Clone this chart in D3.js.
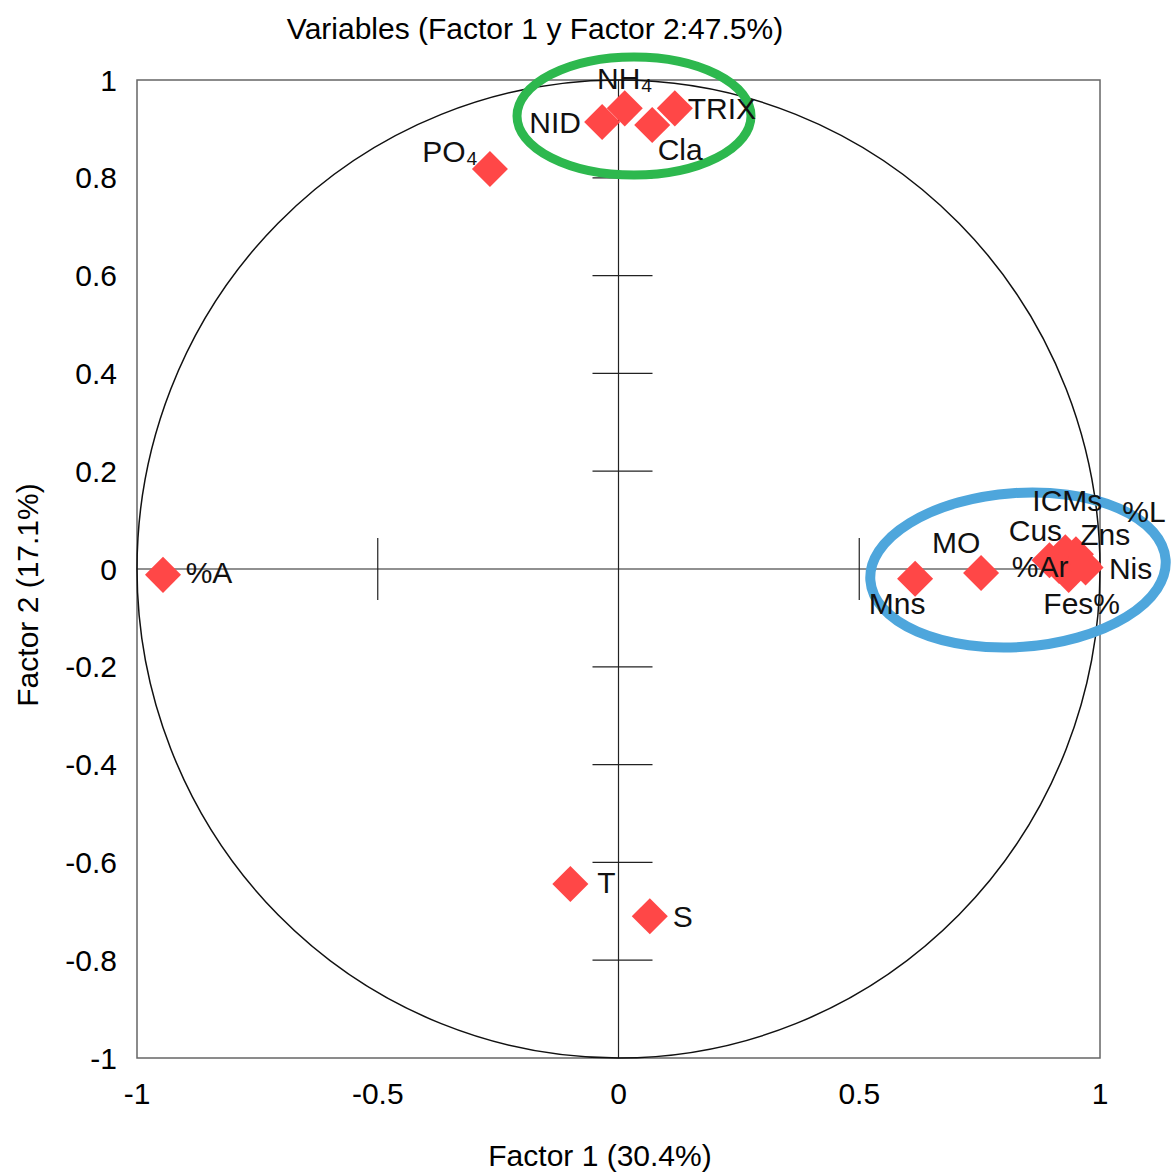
<!DOCTYPE html>
<html>
<head>
<meta charset="utf-8">
<script src="https://cdn.jsdelivr.net/npm/d3@7"></script>
<style>
  body { margin: 0; background: #fff; }
  text { font-family: "Liberation Sans", Arial, sans-serif; }
</style>
</head>
<body>
<div id="container"></div>
<script>
let w = 1172;
let h = 1172;

// DATA
let names = ["%A", "PO4", "NID", "NH4", "Cla", "TRIX", "Mns", "MO", "Cus", "%Ar", "ICMs", "%L", "Fes", "Zns", "Nis", "T", "S"];
let f1 = [-0.946, -0.267, -0.034, 0.013, 0.07, 0.117, 0.616, 0.753, 0.895, 0.915, 0.928, 0.95, 0.935, 0.965, 0.97, -0.1, 0.065];
let f2 = [-0.012, 0.818, 0.914, 0.942, 0.908, 0.942, -0.02, -0.008, 0.018, 0.006, 0.034, 0.03, -0.012, 0.01, 0.003, -0.644, -0.71];
let labels = ["%A", "PO₄", "NID", "NH₄", "Cla", "TRIX", "Mns", "MO", "Cus", "%Ar", "ICMs", "%L", "Fes%", "Zns", "Nis", "T", "S"];
// label offset from the marker, in px
let labelDx = [46, -40, -47, 0, 28, 47, -18, -25, -14, -19, 2, 68, 13, 22, 45, 36, 33];
let labelDy = [-2, -17, 0, -30, 25, 0, 25, -30, -30, 0, -52, -43, 29, -30, 1, -1, 0];
let xTicks = [-1, -0.5, 0, 0.5, 1];
let yTicks = [-1, -0.8, -0.6, -0.4, -0.2, 0, 0.2, 0.4, 0.6, 0.8, 1];
let innerTicksX = [-0.5, 0.5];
let innerTicksY = [-0.8, -0.6, -0.4, -0.2, 0.2, 0.4, 0.6, 0.8];

let mLeft = 137, mRight = 1100, mTop = 80, mBottom = 1058;
let fs = 30;

let viz = d3.select("#container").append("svg")
  .attr("width", w)
  .attr("height", h)
  .style("background-color", "white");

let x = d3.scaleLinear().domain([-1, 1]).range([mLeft, mRight]);
let y = d3.scaleLinear().domain([-1, 1]).range([mBottom, mTop]);

// frame
viz.append("rect")
  .attr("x", mLeft).attr("y", mTop)
  .attr("width", mRight - mLeft).attr("height", mBottom - mTop)
  .attr("fill", "none").attr("stroke", "#666").attr("stroke-width", 1.5);

// axes through origin
viz.append("line")
  .attr("x1", mLeft).attr("x2", mRight).attr("y1", y(0)).attr("y2", y(0))
  .attr("stroke", "#222").attr("stroke-width", 1.2);
viz.append("line")
  .attr("x1", x(0)).attr("x2", x(0)).attr("y1", mTop).attr("y2", mBottom)
  .attr("stroke", "#222").attr("stroke-width", 1.2);

viz.selectAll(".tx").data(innerTicksX).enter()
  .append("line")
  .attr("x1", d => x(d)).attr("x2", d => x(d))
  .attr("y1", y(0) - 31).attr("y2", y(0) + 31)
  .attr("stroke", "#222").attr("stroke-width", 1.2);

viz.selectAll(".ty").data(innerTicksY).enter()
  .append("line")
  .attr("x1", x(0) - 26).attr("x2", x(0) + 34)
  .attr("y1", d => y(d)).attr("y2", d => y(d))
  .attr("stroke", "#222").attr("stroke-width", 1.2);

// correlation circle
viz.append("ellipse")
  .attr("cx", x(0)).attr("cy", y(0))
  .attr("rx", x(1) - x(0)).attr("ry", y(0) - y(1))
  .attr("fill", "none").attr("stroke", "#111").attr("stroke-width", 1.5);

// tick labels
viz.selectAll(".yl").data(yTicks).enter()
  .append("text")
  .attr("x", 117).attr("y", d => y(d))
  .attr("dy", "0.35em")
  .attr("text-anchor", "end")
  .attr("font-size", fs)
  .text(d => String(d));

viz.selectAll(".xl").data(xTicks).enter()
  .append("text")
  .attr("x", d => x(d)).attr("y", 1093)
  .attr("dy", "0.35em")
  .attr("text-anchor", "middle")
  .attr("font-size", fs)
  .text(d => String(d));

// highlight ellipses
viz.append("ellipse")
  .attr("cx", 634).attr("cy", 116).attr("rx", 117).attr("ry", 59)
  .attr("fill", "none").attr("stroke", "#2db84e").attr("stroke-width", 9);
viz.append("ellipse")
  .attr("cx", 0).attr("cy", 0).attr("rx", 148).attr("ry", 77)
  .attr("transform", "translate(1018,570) rotate(-4)")
  .attr("fill", "none").attr("stroke", "#4ea6dc").attr("stroke-width", 10);

// points
let pts = names.map(function (d, i) {
  return { name: d, label: labels[i], f1: f1[i], f2: f2[i], dx: labelDx[i], dy: labelDy[i] };
});

let sym = d3.symbol().type(d3.symbolSquare).size(650);
viz.selectAll(".pt").data(pts).enter()
  .append("path")
  .attr("d", sym)
  .attr("transform", d => "translate(" + x(d.f1) + "," + y(d.f2) + ") rotate(45)")
  .attr("fill", "#ff4747");

viz.selectAll(".lab").data(pts).enter()
  .append("text")
  .attr("x", d => x(d.f1) + d.dx)
  .attr("y", d => y(d.f2) + d.dy)
  .attr("dy", "0.35em")
  .attr("text-anchor", "middle")
  .attr("font-size", fs)
  .attr("fill", "#111")
  .text(d => d.label);

// titles
viz.append("text")
  .attr("x", 535).attr("y", 28).attr("dy", "0.35em")
  .attr("text-anchor", "middle").attr("font-size", fs)
  .text("Variables (Factor 1 y Factor 2:47.5%)");

viz.append("text")
  .attr("x", 600).attr("y", 1155).attr("dy", "0.35em")
  .attr("text-anchor", "middle").attr("font-size", fs)
  .text("Factor 1 (30.4%)");

viz.append("text")
  .attr("transform", "translate(27,595) rotate(-90)")
  .attr("dy", "0.35em")
  .attr("text-anchor", "middle").attr("font-size", fs)
  .text("Factor 2 (17.1%)");
</script>
</body>
</html>
